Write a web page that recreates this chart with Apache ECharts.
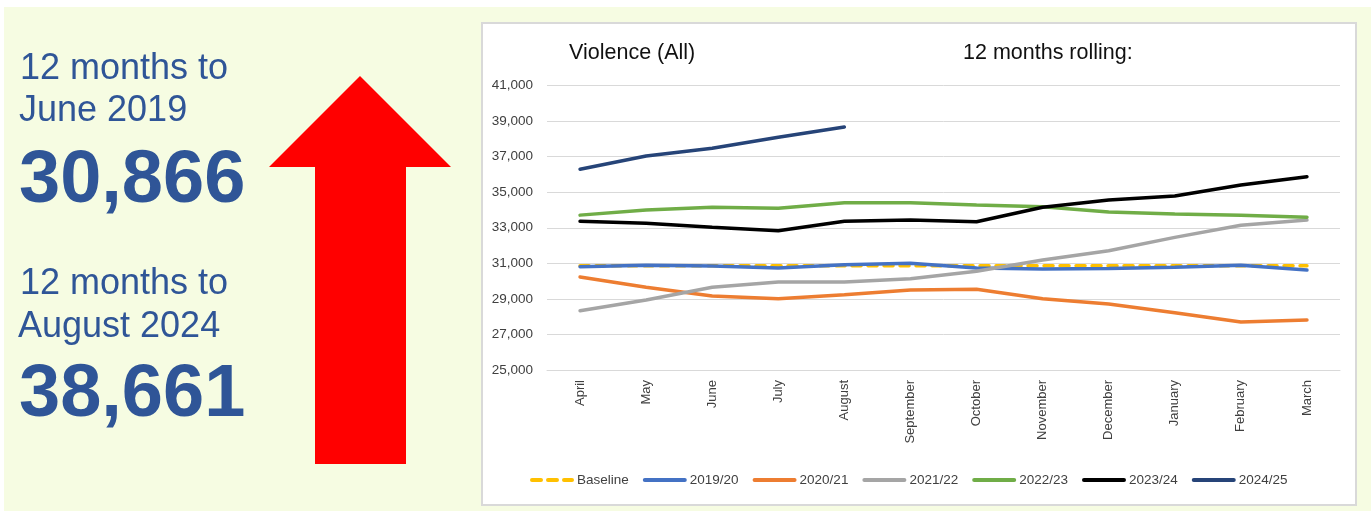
<!DOCTYPE html>
<html>
<head>
<meta charset="utf-8">
<script src="https://cdn.jsdelivr.net/npm/echarts@6/dist/echarts.min.js"></script>
<style>
  html, body { margin: 0; padding: 0; background: #ffffff; }
  #chart { width: 1371px; height: 511px; }
</style>
</head>
<body>
<div id="chart"></div>
<script>
// Months of the financial year (April to March)
const months = ['April', 'May', 'June', 'July', 'August', 'September',
  'October', 'November', 'December', 'January', 'February', 'March'];

// 12-month rolling totals of violence offences
const baseline = [30866, 30866, 30866, 30866, 30866, 30866, 30866, 30866, 30866, 30866, 30866, 30866];
const fy1920 = [30810, 30890, 30850, 30740, 30920, 31000, 30740, 30680, 30710, 30780, 30890, 30620];
const fy2021 = [30230, 29650, 29160, 29010, 29230, 29500, 29540, 29010, 28710, 28220, 27700, 27810];
const fy2122 = [28330, 28940, 29650, 29950, 29950, 30130, 30550, 31190, 31710, 32460, 33140, 33430];
const fy2223 = [33710, 34000, 34150, 34090, 34410, 34410, 34280, 34180, 33890, 33770, 33700, 33590];
const fy2324 = [33360, 33250, 33030, 32830, 33360, 33440, 33340, 34150, 34560, 34790, 35400, 35870];
const fy2425 = [36290, 37040, 37470, 38090, 38661];

// Y axis scale
const yMin = 25000;
const yMax = 41000;
const yStep = 2000;

// Headline figures
const startLabel = ['12 months to', 'June 2019'];
const startValue = '30,866';
const endLabel = ['12 months to', 'August 2024'];
const endValue = '38,661';

const FONT = '"Liberation Sans", Arial, sans-serif';
const NAVY = '#2F5597';

function lineSeries(name, data, color, dashed) {
  return {
    name: name,
    type: 'line',
    data: data,
    symbol: 'none',
    smooth: false,
    lineStyle: { color: color, width: 3.5, type: dashed ? [9, 7] : 'solid', cap: 'round' },
    itemStyle: { color: color },
    emphasis: { disabled: true },
    animation: false
  };
}

const chart = echarts.init(document.getElementById('chart'), null, { renderer: 'canvas' });

const panelText = (txt, x, y, size, bold) => ({
  type: 'text',
  left: x,
  top: y,
  z: 10,
  style: {
    text: txt,
    fill: NAVY,
    font: (bold ? 'bold ' : '') + size + 'px ' + FONT
  }
});

chart.setOption({
  animation: false,
  textStyle: { fontFamily: FONT },
  graphic: [
    // page panel
    { type: 'rect', shape: { x: 4, y: 7, width: 1367, height: 504 }, style: { fill: '#F6FCE2' }, z: -10, silent: true },
    // white chart card
    { type: 'rect', shape: { x: 482, y: 23, width: 874, height: 482 }, style: { fill: '#ffffff', stroke: '#D9D9D9', lineWidth: 2 }, z: -9, silent: true },
    // headline texts
    panelText(startLabel[0], 20, 51, 36, false),
    panelText(startLabel[1], 19, 93, 36, false),
    panelText(startValue, 19, 145, 74, true),
    panelText(endLabel[0], 20, 266, 36, false),
    panelText(endLabel[1], 18, 309, 36, false),
    panelText(endValue, 19, 359, 74, true),
    // up arrow
    {
      type: 'polygon',
      z: 5,
      shape: { points: [[360, 76], [451, 167], [406, 167], [406, 464], [315, 464], [315, 167], [269, 167]] },
      style: { fill: '#FF0000' },
      silent: true
    },
    // chart titles
    { type: 'text', left: 569, top: 42, z: 10, style: { text: 'Violence (All)', fill: '#111111', font: '21.5px ' + FONT } },
    { type: 'text', left: 963, top: 42, z: 10, style: { text: '12 months rolling:', fill: '#111111', font: '21.5px ' + FONT } }
  ],
  grid: { left: 547, right: 31, top: 85.5, bottom: 141, containLabel: false },
  xAxis: {
    type: 'category',
    data: months,
    boundaryGap: true,
    axisLine: { show: true, lineStyle: { color: '#D9D9D9', width: 1 } },
    axisTick: { show: false },
    axisLabel: { rotate: 90, margin: 10, fontSize: 13, color: '#404040', fontFamily: FONT, interval: 0 }
  },
  yAxis: {
    type: 'value',
    min: yMin,
    max: yMax,
    interval: yStep,
    axisLine: { show: false },
    axisTick: { show: false },
    splitLine: { lineStyle: { color: '#D9D9D9', width: 1 } },
    axisLabel: {
      margin: 14,
      fontSize: 13.5,
      color: '#404040',
      fontFamily: FONT,
      formatter: v => v.toLocaleString('en-GB')
    }
  },
  legend: {
    left: 525,
    top: 468,
    itemWidth: 40,
    itemHeight: 4,
    itemGap: 14,
    itemStyle: { opacity: 0 },
    lineStyle: { width: 4 },
    textStyle: { fontSize: 13.5, color: '#404040', fontFamily: FONT },
    data: ['Baseline', '2019/20', '2020/21', '2021/22', '2022/23', '2023/24', '2024/25']
  },
  series: [
    lineSeries('Baseline', baseline, '#FFC000', true),
    lineSeries('2019/20', fy1920, '#4472C4'),
    lineSeries('2020/21', fy2021, '#ED7D31'),
    lineSeries('2021/22', fy2122, '#A5A5A5'),
    lineSeries('2022/23', fy2223, '#70AD47'),
    lineSeries('2023/24', fy2324, '#000000'),
    lineSeries('2024/25', fy2425, '#264478')
  ]
});
</script>
</body>
</html>
